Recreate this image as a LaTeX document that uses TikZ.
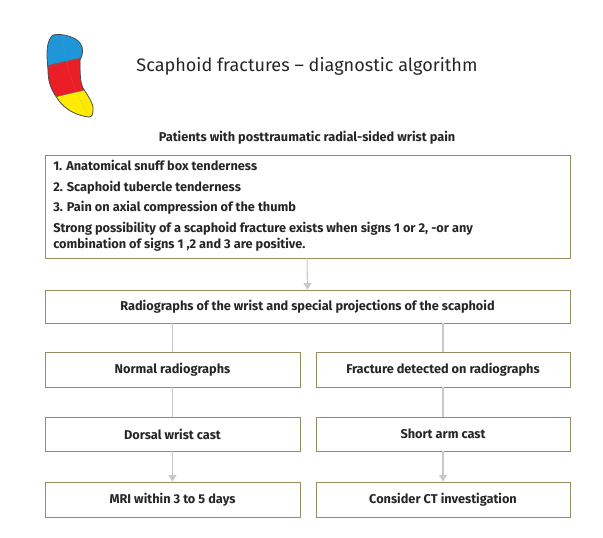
\documentclass[tikz,border=0pt]{standalone}
\usepackage{fontspec}
\setmainfont{Fira Sans}
\usepackage{tikz}
\usetikzlibrary{arrows.meta}

\definecolor{boxline}{RGB}{150,140,95}
\definecolor{conn}{RGB}{200,200,200}
\definecolor{scblue}{RGB}{30,150,215}
\definecolor{scred}{RGB}{235,30,40}
\definecolor{scyellow}{RGB}{255,235,0}

\tikzset{
  stepbox/.style={draw=boxline, line width=0.5pt, font=\fontsize{9.6}{12}\selectfont\bfseries, text=black!85},
  link/.style={draw=conn, line width=0.8pt},
  arr/.style={link, -{Triangle[length=5pt,width=6pt,fill=conn]}}
}

\begin{document}
\begin{tikzpicture}[x=0.02646cm, y=-0.02646cm]
\useasboundingbox (0,0) rectangle (603,537);

% scaphoid sketch
\def\scoutline{(53,35) .. controls (62,33) and (76,37) .. (80,43) .. controls (84,48) and (83,55) .. (80,60)
  .. controls (80,72) and (80,82) .. (83,88) .. controls (88,96) and (94,104) .. (93,110)
  .. controls (93,114) and (92,117) .. (89,117) .. controls (80,116) and (66,112) .. (57,98)
  .. controls (50,88) and (48,80) .. (48,70) -- (47,57) .. controls (47,50) and (47,40) .. (53,35) -- cycle}
\begin{scope}
  \clip \scoutline;
  \fill[scblue] (40,25) rectangle (100,70);
  \fill[scred] (40,67) -- (80,58) -- (100,58) -- (100,90) -- (85,90) -- (55,97) -- (40,97) -- cycle;
  \fill[scyellow] (40,97) -- (55,97) -- (85,90) -- (100,90) -- (100,125) -- (40,125) -- cycle;
  \draw[black!60, line width=0.4pt] (40,69) -- (47,67) -- (80,58);
  \draw[black!60, line width=0.4pt] (55,97) -- (85,90);
  \draw[black!40, densely dotted, line width=0.3pt] (62,34) .. controls (66,70) and (75,95) .. (90,116);
\end{scope}
\draw[black!70, line width=0.6pt] \scoutline;

\node[font=\fontsize{13.6}{16}\selectfont, text=black!85] (title) at (307,66) {Scaphoid fractures -- diagnostic algorithm};
\node[font=\fontsize{9.6}{12}\selectfont\bfseries, text=black!85] (patients) at (307,138) {Patients with posttraumatic radial-sided wrist pain};

\draw[boxline, line width=0.5pt] (45,155) rectangle (570,258);
\node[anchor=north west, align=left, inner sep=0pt, font=\fontsize{9.6}{12}\selectfont\bfseries, text=black!85] (signs) at (53,160)
  {1. Anatomical snuff box tenderness\\[3.5pt]
   2. Scaphoid tubercle tenderness\\[3.5pt]
   3. Pain on axial compression of the thumb\\[3.5pt]
   Strong possibility of a scaphoid fracture exists when signs 1 or 2, -or any\\
   combination of signs 1 ,2 and 3 are positive.};
\coordinate (signsbot) at (307,258);

\node[stepbox, minimum width=525*0.02646cm, minimum height=33*0.02646cm] (xray) at (307.5,306.5) {Radiographs of the wrist and special projections of the scaphoid};
\node[stepbox, minimum width=255*0.02646cm, minimum height=35*0.02646cm] (normal) at (172.5,369.5) {Normal radiographs};
\node[stepbox, minimum width=254*0.02646cm, minimum height=35*0.02646cm] (fracture) at (443,369.5) {Fracture detected on radiographs};
\node[stepbox, minimum width=255*0.02646cm, minimum height=34*0.02646cm] (dorsal) at (172.5,434) {Dorsal wrist cast};
\node[stepbox, minimum width=254*0.02646cm, minimum height=34*0.02646cm] (short) at (443,434) {Short arm cast};
\node[stepbox, minimum width=255*0.02646cm, minimum height=35*0.02646cm] (mri) at (172.5,499.5) {MRI within 3 to 5 days};
\node[stepbox, minimum width=254*0.02646cm, minimum height=35*0.02646cm] (ct) at (443,499.5) {Consider CT investigation};

\draw[arr] (signsbot) -- (xray.north);
\draw[link] (xray.south -| normal) -- (normal.north);
\draw[link] (xray.south -| fracture) -- (fracture.north);
\draw[link] (normal) -- (dorsal);
\draw[link] (fracture) -- (short);
\draw[arr] (dorsal) -- (mri);
\draw[arr] (short) -- (ct);
\end{tikzpicture}
\end{document}
